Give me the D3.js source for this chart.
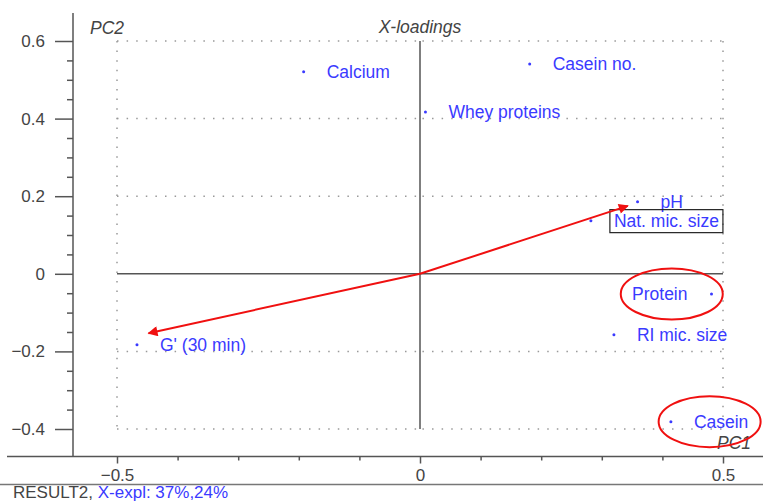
<!DOCTYPE html>
<html>
<head>
<meta charset="utf-8">
<script src="https://cdn.jsdelivr.net/npm/d3@7"></script>
<style>
  body { margin: 0; background: #fff; }
  text { font-family: "Liberation Sans", Arial, sans-serif; }
</style>
</head>
<body>
<svg id="chart"></svg>
<script>
var width = 763
var height = 502

// loadings
var names = ["Calcium", "Whey proteins", "Casein no.", "pH", "Nat. mic. size", "Protein", "RI mic. size", "G' (30 min)", "Casein"]
var pc1 = [-0.192, 0.009, 0.181, 0.359, 0.282, 0.481, 0.320, -0.467, 0.414]
var pc2 = [0.521, 0.417, 0.541, 0.186, 0.137, -0.052, -0.157, -0.183, -0.381]
var labelLeft = ["Protein"]          // label drawn on the left side of the dot
var boxed = ["Nat. mic. size"]
var circled = ["Protein", "Casein"]

// red arrows from the origin
var arrowPc1 = [0.343, -0.448]
var arrowPc2 = [0.175, -0.153]

var gridY = [0.6, 0.4, 0.2, -0.2, -0.4]
var gridX = [-0.5, 0.5]
var yMajor = [-0.4, -0.2, 0, 0.2, 0.4, 0.6]
var xMajor = [-0.5, 0, 0.5]

var grey = "#555"
var blue = "#3a3aff"
var fs = 17.5

var svg = d3.select("#chart").attr("width", width).attr("height", height)

var x = d3.scaleLinear().domain([-0.5, 0.5]).range([117, 723])
var y = d3.scaleLinear().domain([-0.4, 0.6]).range([429, 41])

var yMinor = d3.range(-0.4, 0.6001, 0.05).filter(v => !yMajor.some(m => Math.abs(m - v) < 1e-6))
var xMinor = d3.range(-0.5, 0.5001, 0.1).filter(v => !xMajor.some(m => Math.abs(m - v) < 1e-6))

var axisX = 73, axisY = 456.5

function styleAxis(g) {
  g.select(".domain").remove()
  g.selectAll("line").attr("stroke", grey).attr("stroke-width", 1.5)
  g.selectAll("text").attr("fill", "#444").style("font-size", "17px")
}

// y axis
svg.append("g").attr("transform", "translate(" + axisX + ",0)")
  .call(d3.axisLeft(y).tickValues(yMajor).tickSize(18).tickPadding(10).tickFormat(d => Math.abs(d) < 1e-9 ? "0" : d3.format(".1f")(d)))
  .call(styleAxis)
svg.append("g").attr("transform", "translate(" + axisX + ",0)")
  .call(d3.axisLeft(y).tickValues(yMinor).tickSize(6).tickFormat(""))
  .call(styleAxis)
svg.append("line").attr("x1", axisX).attr("x2", axisX).attr("y1", 13).attr("y2", axisY)
  .attr("stroke", grey).attr("stroke-width", 1.5)

// x axis
svg.append("g").attr("transform", "translate(0," + axisY + ")")
  .call(d3.axisBottom(x).tickValues(xMajor).tickSize(7).tickPadding(5).tickFormat(d => d === 0 ? "0" : d3.format(".1f")(d)))
  .call(styleAxis)
svg.append("g").attr("transform", "translate(0," + axisY + ")")
  .call(d3.axisBottom(x).tickValues(xMinor).tickSize(4).tickFormat(""))
  .call(styleAxis)
svg.append("line").attr("x1", 7).attr("x2", width).attr("y1", axisY).attr("y2", axisY)
  .attr("stroke", grey).attr("stroke-width", 1.5)

// bottom separator
svg.append("line").attr("x1", 0).attr("x2", width).attr("y1", 484.5).attr("y2", 484.5)
  .attr("stroke", "#777").attr("stroke-width", 1.5)

// dotted grid
gridY.forEach(v => {
  [[-0.5, -0.004], [0.004, 0.5]].forEach(seg => {
    svg.append("line")
      .attr("x1", x(seg[0])).attr("x2", x(seg[1])).attr("y1", y(v)).attr("y2", y(v))
      .attr("stroke", "#999").attr("stroke-width", 1.5).attr("stroke-dasharray", "1.5,8.1")
  })
})
gridX.forEach(v => {
  svg.append("line")
    .attr("x1", x(v)).attr("x2", x(v)).attr("y1", y(0.6)).attr("y2", y(-0.4))
    .attr("stroke", "#999").attr("stroke-width", 1.5).attr("stroke-dasharray", "1.5,8.1")
})

// zero lines
svg.append("line").attr("x1", x(-0.5)).attr("x2", x(0.5)).attr("y1", y(0)).attr("y2", y(0))
  .attr("stroke", grey).attr("stroke-width", 1.5)
svg.append("line").attr("x1", x(0)).attr("x2", x(0)).attr("y1", y(0.6)).attr("y2", y(-0.4))
  .attr("stroke", grey).attr("stroke-width", 1.5)

// titles
svg.append("text").attr("x", 420).attr("y", 33).attr("text-anchor", "middle")
  .style("font-size", fs + "px").style("font-style", "italic").attr("fill", "#444").text("X-loadings")
svg.append("text").attr("x", 90).attr("y", 34)
  .style("font-size", fs + "px").style("font-style", "italic").attr("fill", "#444").text("PC2")
svg.append("text").attr("x", 717).attr("y", 449)
  .style("font-size", fs + "px").style("font-style", "italic").attr("fill", "#444").text("PC1")

// footer
var foot = svg.append("text").attr("x", 13).attr("y", 498).style("font-size", "17px")
foot.append("tspan").attr("fill", "#444").text("RESULT2, ")
foot.append("tspan").attr("fill", blue).text("X-expl: 37%,24%")

// points and labels
names.forEach((n, i) => {
  var px = x(pc1[i]), py = y(pc2[i])
  svg.append("circle").attr("cx", px).attr("cy", py).attr("r", 1.5).attr("fill", blue)
  var left = labelLeft.includes(n)
  var t = svg.append("text")
    .attr("x", left ? px - 24 : px + 23).attr("y", py + 6)
    .attr("text-anchor", left ? "end" : "start")
    .style("font-size", fs + "px").attr("fill", blue).text(n)
  var bb = t.node().getBBox()
  if (boxed.includes(n)) {
    svg.append("rect").attr("x", bb.x - 4).attr("y", bb.y - 1).attr("width", bb.width + 8).attr("height", bb.height + 3)
      .attr("fill", "none").attr("stroke", "#222").attr("stroke-width", 1.2)
  }
  if (circled.includes(n)) {
    var x0 = Math.min(bb.x, px), x1 = Math.max(bb.x + bb.width, px)
    svg.append("ellipse").attr("cx", (x0 + x1) / 2).attr("cy", bb.y + bb.height / 2)
      .attr("rx", 51).attr("ry", 25.5)
      .attr("fill", "none").attr("stroke", "#f01010").attr("stroke-width", 2)
  }
})

// arrows
svg.append("defs").append("marker").attr("id", "head")
  .attr("viewBox", "0 0 10 10").attr("refX", 9).attr("refY", 5)
  .attr("markerWidth", 6).attr("markerHeight", 5).attr("orient", "auto")
  .append("path").attr("d", "M0,0L10,5L0,10Z").attr("fill", "#f01010")
arrowPc1.forEach((a, i) => {
  svg.append("line").attr("x1", x(0)).attr("y1", y(0)).attr("x2", x(a)).attr("y2", y(arrowPc2[i]))
    .attr("stroke", "#f01010").attr("stroke-width", 2).attr("marker-end", "url(#head)")
})
</script>
</body>
</html>
